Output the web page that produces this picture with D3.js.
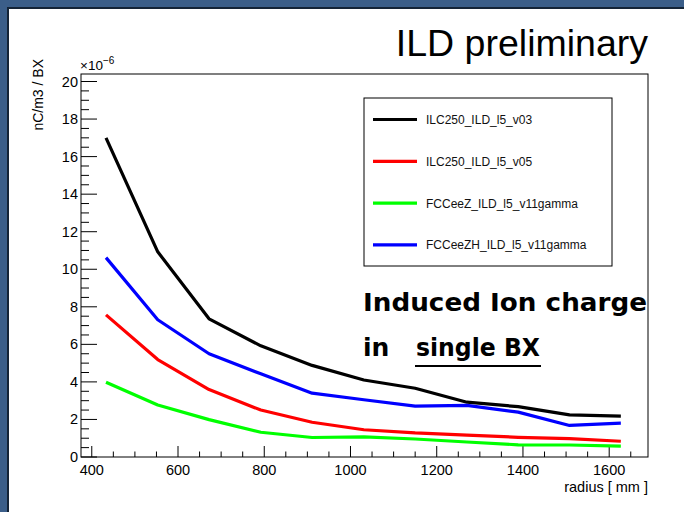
<!DOCTYPE html>
<html>
<head>
<meta charset="utf-8">
<script src="https://cdn.jsdelivr.net/npm/d3@7"></script>
<style>
  body { margin: 0; background: #fff; }
  svg { display: block; }
</style>
</head>
<body>
<svg id="chart"></svg>
<script>
// radius [mm] of each sample
const radius = [433, 553, 672, 792, 911, 1031, 1150, 1270, 1389, 1508, 1627]

// induced ion charge, units of 1e-6 nC/m3 per BX
const ilc250V03 = [17.0, 10.93, 7.36, 5.92, 4.88, 4.10, 3.66, 2.92, 2.68, 2.24, 2.18]
const ilc250V05 = [7.57, 5.19, 3.59, 2.50, 1.85, 1.45, 1.28, 1.17, 1.05, 0.98, 0.84]
const fccZ = [3.98, 2.77, 1.99, 1.32, 1.04, 1.07, 0.96, 0.80, 0.65, 0.64, 0.58]
const fccZH = [10.62, 7.31, 5.50, 4.43, 3.40, 3.05, 2.71, 2.75, 2.39, 1.68, 1.80]

const seriesNames = ['ILC250_ILD_l5_v03', 'ILC250_ILD_l5_v05', 'FCCeeZ_ILD_l5_v11gamma', 'FCCeeZH_ILD_l5_v11gamma']
const seriesValues = [ilc250V03, ilc250V05, fccZ, fccZH]
const seriesColors = ['#000000', '#ff0000', '#00ff00', '#0000ff']

const xTicks = [400, 600, 800, 1000, 1200, 1400, 1600]
const yTicks = [0, 2, 4, 6, 8, 10, 12, 14, 16, 18, 20]

const width = 684
const height = 512
const frame = { left: 81, right: 648, top: 74, bottom: 457 }
const font = 'Liberation Sans, Arial, Helvetica, sans-serif'

const svg = d3.select('#chart')
  .attr('width', width)
  .attr('height', height)

// slide border
svg.append('rect').attr('width', width).attr('height', height).attr('fill', '#3b5e89')
svg.append('rect').attr('x', 7).attr('y', 7).attr('width', width - 7).attr('height', height - 7).attr('fill', '#142437')
svg.append('rect').attr('x', 9).attr('y', 9).attr('width', width - 9).attr('height', height - 9).attr('fill', '#ffffff')

const x = d3.scaleLinear().domain([375, 1690]).range([frame.left, frame.right])
const y = d3.scaleLinear().domain([0, 20.4]).range([frame.bottom, frame.top])

// frame
svg.append('rect')
  .attr('x', frame.left).attr('y', frame.top)
  .attr('width', frame.right - frame.left).attr('height', frame.bottom - frame.top)
  .attr('fill', 'none').attr('stroke', '#000').attr('stroke-width', 1)

// x axis ticks
const xMinor = d3.range(400, 1690, 50)
svg.append('g').selectAll('line')
  .data(xMinor)
  .enter().append('line')
  .attr('x1', d => x(d)).attr('x2', d => x(d))
  .attr('y1', frame.bottom)
  .attr('y2', d => frame.bottom - (d % 200 === 0 ? 11 : 5.5))
  .attr('stroke', '#000')

svg.append('g').selectAll('text')
  .data(xTicks)
  .enter().append('text')
  .attr('x', d => x(d))
  .attr('y', frame.bottom + 18)
  .attr('text-anchor', 'middle')
  .style('font-family', font)
  .style('font-size', '14.5px')
  .text(d => d)

// y axis ticks
const yMinor = d3.range(0, 20.4, 0.5)
svg.append('g').selectAll('line')
  .data(yMinor)
  .enter().append('line')
  .attr('y1', d => y(d)).attr('y2', d => y(d))
  .attr('x1', frame.left)
  .attr('x2', d => frame.left + (d % 2 === 0 ? 16 : 8))
  .attr('stroke', '#000')

svg.append('g').selectAll('text')
  .data(yTicks)
  .enter().append('text')
  .attr('x', frame.left - 3)
  .attr('y', d => y(d) + 5)
  .attr('text-anchor', 'end')
  .style('font-family', font)
  .style('font-size', '14.5px')
  .text(d => d)

// exponent
const expo = svg.append('text')
  .attr('x', frame.left - 1)
  .attr('y', frame.top - 4)
  .style('font-family', font)
  .style('font-size', '13.5px')
expo.append('tspan').text('\u00d710')
expo.append('tspan').attr('dy', -6).style('font-size', '10px').text('\u22126')

// axis titles
svg.append('text')
  .attr('x', frame.right)
  .attr('y', 492)
  .attr('text-anchor', 'end')
  .style('font-family', font)
  .style('font-size', '14.5px')
  .text('radius [ mm ]')

svg.append('text')
  .attr('transform', `translate(43, ${frame.top - 15}) rotate(-90)`)
  .attr('text-anchor', 'end')
  .style('font-family', font)
  .style('font-size', '14px')
  .text('nC/m3 / BX')

// title
svg.append('text')
  .attr('x', frame.right)
  .attr('y', 56)
  .attr('text-anchor', 'end')
  .style('font-family', font)
  .style('font-size', '37.5px')
  .text('ILD preliminary')

// curves
const line = d3.line()
  .x((d, i) => x(radius[i]))
  .y(d => y(d))

svg.append('g').selectAll('path')
  .data(seriesValues)
  .enter().append('path')
  .attr('d', d => line(d))
  .attr('fill', 'none')
  .attr('stroke', (d, i) => seriesColors[i])
  .attr('stroke-width', 3.2)
  .attr('stroke-linejoin', 'round')

// legend
const legend = svg.append('g')
legend.append('rect')
  .attr('x', 364).attr('y', 98)
  .attr('width', 248).attr('height', 168)
  .attr('fill', '#fff').attr('stroke', '#000').attr('stroke-width', 1)

const rows = legend.selectAll('g')
  .data(seriesNames)
  .enter().append('g')
  .attr('transform', (d, i) => `translate(0, ${119.5 + i * 41.8})`)

rows.append('line')
  .attr('x1', 373).attr('x2', 417)
  .attr('stroke', (d, i) => seriesColors[i])
  .attr('stroke-width', 3.2)

rows.append('text')
  .attr('x', 426)
  .attr('y', 4.5)
  .style('font-family', font)
  .style('font-size', '12px')
  .attr('fill', '#111')
  .text(d => d)

// annotation
const note = svg.append('g')
  .style('font-family', 'DejaVu Sans, sans-serif')
  .style('font-weight', 'bold')
  .style('font-size', '25px')
note.append('text')
  .attr('x', 363).attr('y', 311)
  .attr('textLength', 284).attr('lengthAdjust', 'spacingAndGlyphs')
  .text('Induced Ion charge')
note.append('text')
  .attr('x', 363).attr('y', 356)
  .text('in')
note.append('text')
  .attr('x', 416).attr('y', 356)
  .attr('textLength', 124).attr('lengthAdjust', 'spacingAndGlyphs')
  .text('single BX')
note.append('line')
  .attr('x1', 415).attr('x2', 541)
  .attr('y1', 366).attr('y2', 366)
  .attr('stroke', '#000').attr('stroke-width', 2)
</script>
</body>
</html>
